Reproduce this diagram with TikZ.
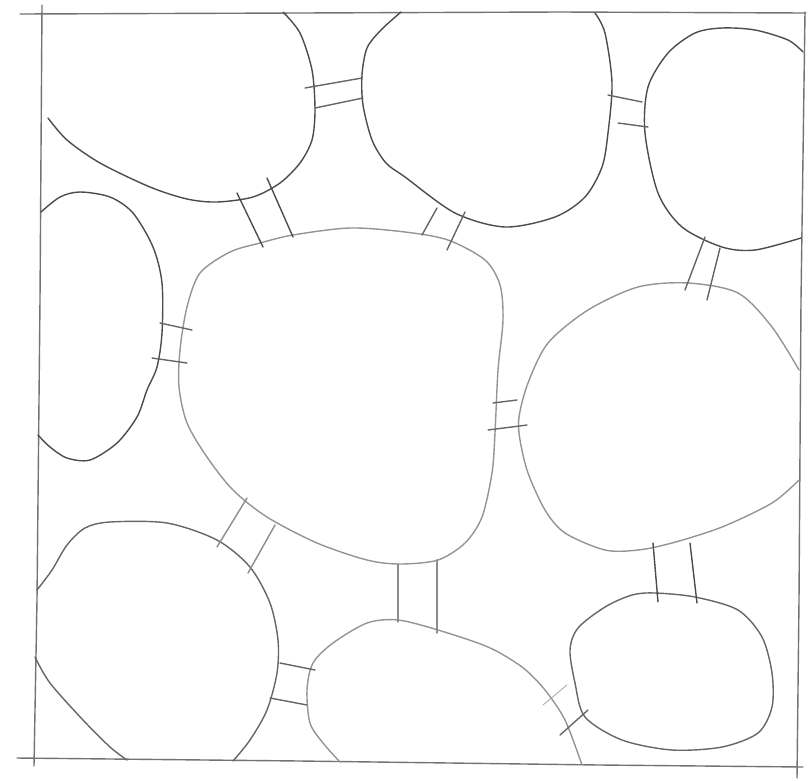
\documentclass[tikz,border=0pt]{standalone}
\begin{document}
\begin{tikzpicture}[x=1pt,y=-1pt,
  pencil/.style={draw=black!60,line width=1.4pt,line cap=round,line join=round},
  dark/.style={pencil,draw=black!70},
  light/.style={pencil,draw=black!42},
  bridge/.style={pencil,line width=1.4pt}]
\useasboundingbox (0,0) rectangle (811,780);
% frame
\draw[pencil,draw=black!55] (20,14) -- (300,13) -- (560,12) -- (806,13);
\draw[pencil,draw=black!55] (42,5) -- (40,300) -- (37,600) -- (34,766);
\draw[pencil,draw=black!55] (17,758) -- (300,761) -- (600,765) -- (803,767);
\draw[pencil,draw=black!55] (805,12) -- (801,300) -- (799,600) -- (797,778);
% blob A (top left)
\draw[dark] plot[smooth] coordinates {(283,12) (300,33) (312,70) (315,110) (312,140) (300,163) (280,183) (253,197) (217,202) (187,199) (150,187) (100,163) (67,140) (48,118)};
% blob B (top middle)
\draw[dark] plot[smooth] coordinates {(401,12) (381,30) (367,48) (362,75) (363,105) (372,140) (386,163) (405,177) (455,213) (505,227) (555,217) (585,197) (602,167) (608,133) (612,83) (605,33) (595,13)};
% blob C (top right)
\draw[dark] plot[smooth] coordinates {(803,52) (788,40) (755,30) (722,28) (695,33) (668,53) (648,87) (645,133) (658,193) (682,227) (722,247) (755,250) (801,238)};
% blob D (left)
\draw[dark] plot[smooth] coordinates {(41,212) (60,197) (80,192) (110,197) (133,213) (153,247) (162,283) (162,333) (157,367) (147,390) (137,417) (117,443) (90,460) (67,458) (50,447) (38,435)};
% blob E (centre)
\draw[light] plot[smooth cycle] coordinates {(200,273) (230,252) (260,243) (293,235) (350,228) (405,232) (448,240) (485,260) (500,285) (503,320) (498,370) (495,433) (492,473) (482,517) (465,543) (438,560) (400,564) (367,560) (317,543) (267,517) (233,490) (207,457) (187,423) (179,387) (180,350) (187,307)};
% blob F (right middle)
\draw[light] plot[smooth] coordinates {(799,370) (772,327) (738,293) (688,283) (638,287) (588,310) (548,343) (528,383) (519,417) (520,440) (528,473) (545,510) (565,533) (605,550) (638,550) (672,543) (722,527) (772,503) (799,480)};
% blob G (bottom middle)
\draw[light] plot[smooth] coordinates {(340,762) (323,743) (310,723) (307,690) (313,663) (333,643) (367,623) (398,620) (438,630) (488,647) (522,667) (545,690) (565,720) (582,765)};
% blob H (bottom left)
\draw[pencil] plot[smooth] coordinates {(37,590) (52,570) (67,545) (85,528) (110,522) (167,523) (217,540) (250,567) (270,603) (278,640) (277,673) (267,710) (250,740) (233,761)};
\draw[pencil] plot[smooth] coordinates {(35,657) (50,683) (83,720) (110,747) (127,760)};
% blob I (bottom right)
\draw[pencil] plot[smooth cycle] coordinates {(655,593) (695,597) (738,610) (762,637) (772,673) (772,707) (758,733) (722,747) (672,750) (622,740) (585,717) (575,683) (570,650) (578,628) (605,607) (632,595)};
% bridges
\draw[bridge] (305,88) -- (362,78);   \draw[bridge] (315,108) -- (363,98);   % A-B
\draw[bridge] (608,95) -- (642,102);  \draw[bridge] (618,123) -- (648,127);  % B-C
\draw[bridge,draw=black!70] (237,193) -- (263,247); \draw[bridge,draw=black!70] (267,178) -- (293,237);  % A-E
\draw[bridge] (437,208) -- (422,235); \draw[bridge] (465,212) -- (447,250);  % B-E
\draw[bridge] (705,237) -- (685,290); \draw[bridge] (720,248) -- (707,300);  % C-F
\draw[bridge] (160,323) -- (192,330); \draw[bridge] (152,358) -- (187,363);  % D-E
\draw[bridge] (493,403) -- (517,400); \draw[bridge] (488,430) -- (527,425);  % E-F
\draw[bridge,draw=black!45] (247,498) -- (217,547); \draw[bridge,draw=black!45] (275,525) -- (248,573);  % E-H
\draw[bridge,draw=black!45] (398,564) -- (398,622); \draw[bridge,draw=black!45] (437,560) -- (437,633);  % E-G
\draw[bridge] (280,663) -- (315,670); \draw[bridge] (270,698) -- (307,705);  % H-G
\draw[bridge,draw=black!70] (653,543) -- (658,602); \draw[bridge,draw=black!70] (690,543) -- (697,603);  % F-I
\draw[bridge] (560,735) -- (588,710); \draw[bridge,draw=black!35,line width=0.8pt] (543,705) -- (567,685);  % G-I
\end{tikzpicture}
\end{document}
